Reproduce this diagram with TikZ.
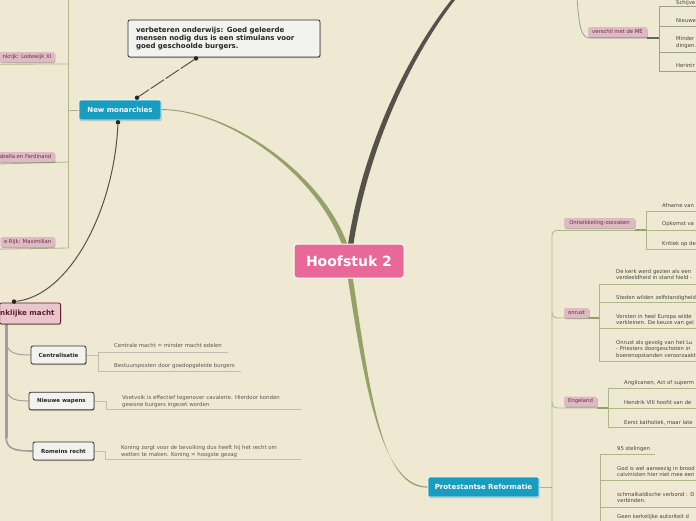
\documentclass[tikz,border=0pt]{standalone}
\usepackage{fontspec}
\setmainfont{DejaVu Sans}
\usetikzlibrary{shadows,calc}
\definecolor{bgc}{RGB}{239,232,210}
\definecolor{rootpink}{RGB}{232,104,152}
\definecolor{blueb}{RGB}{24,156,192}
\definecolor{labpink}{RGB}{222,186,196}
\definecolor{labtxt}{RGB}{112,40,62}
\definecolor{kfill}{RGB}{232,198,204}
\definecolor{kdraw}{RGB}{96,30,44}
\definecolor{greenl}{RGB}{172,182,134}
\definecolor{greenb}{RGB}{148,162,104}
\definecolor{darkl}{RGB}{84,82,74}
\definecolor{grayt}{RGB}{160,160,158}
\definecolor{grayl}{RGB}{192,190,180}
\definecolor{grayr}{RGB}{160,158,148}
\definecolor{txt}{RGB}{72,68,62}
\definecolor{txtl}{RGB}{92,88,82}
\definecolor{boxf}{RGB}{242,242,239}
\definecolor{boxd}{RGB}{50,50,50}
\pgfdeclarelayer{back}
\pgfdeclarelayer{lines}
\pgfsetlayers{back,lines,main}
\tikzset{
  small/.style={font=\fontsize{5.3}{6.5}\selectfont, text=txt, inner sep=0pt, anchor=base west, align=left},
  smallb/.style={font=\fontsize{5.4}{7}\selectfont, text=txtl, inner sep=0pt, anchor=base west, align=left},
  softshadow/.style={drop shadow={shadow xshift=0.6pt, shadow yshift=-1pt, opacity=0.25, fill=black}},
  plabel/.style={fill=labpink, text=labtxt, font=\fontsize{5.3}{6}\selectfont, inner xsep=3.5pt, inner ysep=0pt, minimum height=10pt, rounded corners=1.5pt, softshadow},
  bluebox/.style={fill=blueb, draw=white, line width=0.6pt, text=white, font=\fontsize{7}{8}\selectfont\bfseries, rounded corners=1.5pt, minimum height=20pt, inner sep=0pt, softshadow},
  wbox/.style={fill=boxf, draw=boxd, line width=0.8pt, rounded corners=2pt, font=\fontsize{5.5}{6}\selectfont\bfseries, text=black!85, inner sep=0pt, softshadow},
  gline/.style={draw=greenl, line width=0.8pt},
  gthick/.style={draw=greenb, line width=1.4pt},
  rline/.style={draw=grayr, line width=0.8pt},
  lline/.style={draw=grayl, line width=0.8pt},
  dot/.style={circle, fill=black!85, inner sep=0pt, minimum size=4.5pt},
}
\begin{document}
\begin{tikzpicture}[x=1pt,y=-1pt]
\useasboundingbox (0,0) rectangle (696,520);
\begin{pgfonlayer}{back}
\fill[bgc] (-5,-5) rectangle (701,525);
\end{pgfonlayer}

% ---------- nodes ----------
\node[fill=rootpink, draw=white, line width=1pt, rounded corners=3pt, text=white,
      font=\fontsize{14}{16}\selectfont\bfseries, minimum width=110pt, minimum height=34pt, inner sep=0pt]
      (root) at (349,261) {Hoofstuk 2};
\node[bluebox, minimum width=82pt] (nm) at (120,110) {New monarchies};
\node[bluebox, minimum width=111pt] (pr) at (483.5,487) {Protestantse Reformatie};
\node[fill=boxf, draw=boxd, line width=0.8pt, rounded corners=2pt, softshadow,
      minimum width=192pt, minimum height=37pt, inner xsep=8pt, inner ysep=0pt, text width=176pt, align=left,
      font=\fontsize{7}{8}\selectfont\bfseries, text=black!85]
      (call) at (224,38.5) {verbeteren onderwijs: Goed geleerde\\mensen nodig dus is een stimulans voor\\goed geschoolde burgers.};
\node[fill=kfill, draw=kdraw, line width=0.8pt, rounded corners=2pt, softshadow, text=kdraw,
      font=\fontsize{7.2}{8}\selectfont\bfseries, anchor=east, inner xsep=0pt, inner ysep=0pt,
      minimum height=21pt, text width=61pt, align=right]
      (kon) at (61,313.5) {\mbox{nklijke macht}\hspace*{6pt}};
\node[wbox, minimum width=55pt, minimum height=18pt] (cen) at (58.5,355) {Centralisatie};
\node[wbox, minimum width=65pt, minimum height=17.5pt] (nw) at (61.5,401) {Nieuwe wapens};
\node[wbox, minimum width=61pt, minimum height=18pt] (rr) at (63.5,451) {Romeins recht};

% left labels
\node[plabel, anchor=east] (lab1) at (55,57) {nkrijk: Lodewijk XI};
\node[plabel, anchor=east] (lab2) at (55,157) {abella en Ferdinand};
\node[plabel, anchor=east] (lab3) at (55,242) {e Rijk: Maximilian};

% right labels
\node[plabel, minimum width=59pt] (vme) at (617.5,32) {verschil met de ME};
\node[plabel, minimum width=71pt] (ont) at (599.5,223) {Ontwikkeling-oorzaken};
\node[plabel, minimum width=25pt] (onr) at (576.5,313) {onrust};
\node[plabel, minimum width=33pt] (eng) at (580.5,401.5) {Engeland};

% dots
\node[dot] (d1) at ($(call.south)+(-28,1)$) {};
\node[dot] (d2) at ($(nm.north)+(17,-2)$) {};
\node[dot] (d3) at ($(nm.south)+(-2,2)$) {};
\node[dot] (d4) at ($(kon.north east)+(-47,-1)$) {};

% ---------- texts (anchor = baseline of last line) ----------
\node[smallb] (t1) at (114,347) {Centrale macht = minder macht edelen};
\node[smallb] (t2) at (114,367) {Bestuursposten door goedopgeleide burgers};
\node[smallb] (t3) at (122,406) {Voetvolk is effectief tegenover cavalerie. Hierdoor konden\\gewone burgers ingezet worden};
\node[smallb] (t4) at (121,456) {Koning zorgt voor de bevolking dus heeft hij het recht om\\wetten te maken. Koning = hoogste gezag};

\node[small] (r1) at (676,4.2) {Schijve};
\node[small] (r2) at (676,22) {Nieuwe};
\node[small, font=\fontsize{5.3}{7.7}\selectfont] (r3) at (676,47.7) {Minder\\dingen.};
\node[small] (r4) at (676,67) {Herintr};

\node[small] (o1) at (662,207) {Afname van};
\node[small] (o2) at (662,225) {Opkomst va};
\node[small] (o3) at (662,245) {Kritiek op de};

\node[small] (u1) at (616,279.5) {De kerk werd gezien als een\\verdeeldheid in stand hield -};
\node[small] (u2) at (616,299) {Steden wilden zelfstandigheid};
\node[small] (u3) at (616,324.5) {Vorsten in heel Europa wilde\\verkleinen. De keuze van gel};
\node[small] (u4) at (616,357) {Onrust als gevolg van het Lu\\- Priesters doorgeschoten in\\boerenopstanden veroorzaakt};

\node[small] (e1) at (624,384) {Anglicanen, Act of superm};
\node[small] (e2) at (624,404) {Hendrik VIII hoofd van de};
\node[small] (e3) at (624,424) {Eerst katholiek, maar late};

\node[small] (p1) at (617,450) {95 stelingen};
\node[small] (p2) at (617,476.5) {God is wel aanwezig in brood\\calvinisten hier niet mee een};
\node[small] (p3) at (617,502.5) {schmalkaldische verbond : D\\verbinden.};
\node[small] (p4) at (617,518.5) {Geen kerkelijke autoriteit d};

% ---------- connectors ----------
\begin{pgfonlayer}{lines}
% tapered main branches
\fill[greenb] (nm.east) .. controls (231,110) and (327,181) .. ($(root.center)+(-3,-3)$)
   -- ($(root.center)+(2.5,-3)$) .. controls (333,180) and (232,109) .. ($(nm.east)+(0,-0.9)$) -- cycle;
\fill[darkl] ($(root.center)+(-2.5,-5)$) .. controls (358,160) and (403,58) .. (456,-6)
   -- (458.5,-4.5) .. controls (407,60) and (364,160) .. ($(root.center)+(2.8,-5)$) -- cycle;
\fill[greenb] ($(root.center)+(-2.5,8)$) .. controls (366,400) and (384,486.5) .. ($(pr.west)+(0,-0.5)$)
   -- ($(pr.west)+(0,0.6)$) .. controls (382,488.5) and (371,400) .. ($(root.center)+(2.5,8)$) -- cycle;

% callout connector
\draw[darkl, line width=1pt, dash pattern=on 16pt off 2pt] (d1) -- (d2);
% New monarchies -> Koninklijke macht
\draw[darkl, line width=1pt] (d3) .. controls (114,210) and (70,295) .. (d4);

% left bracket of New monarchies
\draw[gline] (68,-3) -- (68,248);
\draw[gline] (nm.west) -- (68,110);
\draw[gline] (lab1.south west) ++(-3,2) -- (68,64);
\draw[gline] (lab2.south west) ++(-3,2) -- (68,162);
\draw[gline] (lab3.south west) ++(-3,2) -- (68,248);

% Koninklijke macht trunk
\coordinate (ktop) at ($(kon.south east)+(-55,0)$);
\draw[grayt, line width=3pt] (ktop) -- (6,438);
\draw[grayt, line width=1.6pt] (6,436) .. controls (6,449) and (14,451) .. (rr.west);
\draw[grayt, line width=1pt] (6,341) .. controls (7,353) and (15,355) .. (cen.west);
\draw[grayt, line width=1pt] (6,387) .. controls (7,399) and (15,401) .. (nw.west);

\draw[lline] (cen.east) -- (98,355);
\draw[lline] (98,352) -- (98,371);
\draw[lline] (98,352) -- (228,352);
\draw[lline] (98,371) -- (241,371);
\draw[lline] (nw.east) -- (106,401) -- (106,409) -- (302,409);
\draw[lline] (rr.east) -- (105,451) -- (105,459) -- (301,459);

% top right: verschil met de ME
\draw[rline] (577,-3) .. controls (579,30) and (582,38) .. (590,38) -- (vme.south east |- 0,38);
\draw[draw=black!60, line width=1.4pt] (vme.south east |- 0,38) -- (659,38);
\draw[rline] (659,6) -- (659,71);
\foreach \yy in {6,26,52,71} \draw[rline] (659,\yy) -- (700,\yy);

% lower right trunk
\draw[gline] (ont.south west) ++(-4,2) .. controls (554,230) and (552,232) .. (552,236) -- (552,524);
\draw[gline] (558,230) -- (646,230);
\draw[gthick] (ont.south east |- 0,230) -- (646,230);
\draw[gline] (646,211) -- (646,249);
\foreach \yy in {211,230,249} \draw[gline] (646,\yy) -- (700,\yy);

\draw[gline] (552,312) .. controls (552,316) and (554,318) .. (558,318) -- (onr.south east |- 0,318);
\draw[gthick] (onr.south east |- 0,318) -- (599,318);
\draw[gline] (599,284) -- (599,361);
\foreach \yy in {284,302,328,361} \draw[gline] (599,\yy) -- (700,\yy);

\draw[gline] (552,402) .. controls (552,406) and (554,408) .. (558,408) -- (eng.south east |- 0,408);
\draw[gthick] (eng.south east |- 0,408) -- (608,408);
\draw[gline] (608,388) -- (608,427);
\foreach \yy in {388,408,427} \draw[gline] (608,\yy) -- (700,\yy);

\draw[gline] (pr.east) -- (552,487);

\draw[gline] (600,454) -- (600,524);
\draw[gline] (600,454) -- (655,454);
\foreach \yy in {480,507} \draw[gline] (600,\yy) -- (700,\yy);
\end{pgfonlayer}
\end{tikzpicture}
\end{document}
